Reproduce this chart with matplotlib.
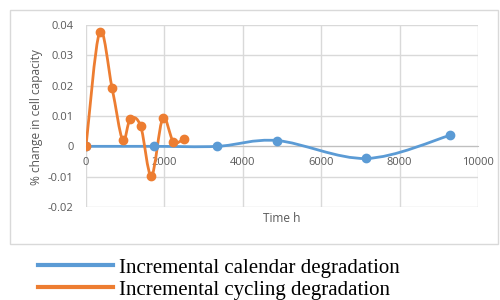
import matplotlib
matplotlib.use("Agg")
import matplotlib.pyplot as plt
from matplotlib.path import Path
from matplotlib.patches import PathPatch, Rectangle
from matplotlib.lines import Line2D

# --- Daten ---
calendar_h = [0, 1745, 3353, 4879, 7152, 9280]
calendar_pct = [0, 0, 0, 0.0019, -0.0040, 0.0036]

cycling_h = [0, 347, 664, 935, 1131, 1394, 1668, 1957, 2230, 2503]
cycling_pct = [0, 0.0377, 0.0193, 0.0021, 0.0091, 0.0067, -0.0098, 0.0092, 0.0015, 0.0024]

x_ticks = [0, 2000, 4000, 6000, 8000, 10000]
y_ticks = [-0.02, -0.01, 0, 0.01, 0.02, 0.03, 0.04]
y_labels = ["-0.02", "-0.01", "0", "0.01", "0.02", "0.03", "0.04"]
labels = ["Incremental calendar degradation", "Incremental cycling degradation"]

blue = "#5B9BD5"
orange = "#ED7D31"
grey_txt = "#595959"
grid_c = "#D9D9D9"


def smooth_path(xs, ys):
    # Excel-artige geglaettete Linie (Catmull-Rom als Bezier)
    pts = list(zip(xs, ys))
    verts = [pts[0]]
    codes = [Path.MOVETO]
    n = len(pts)
    for i in range(n - 1):
        p0 = pts[i - 1] if i > 0 else pts[i]
        p1 = pts[i]
        p2 = pts[i + 1]
        p3 = pts[i + 2] if i + 2 < n else pts[i + 1]
        c1 = (p1[0] + (p2[0] - p0[0]) / 6, p1[1] + (p2[1] - p0[1]) / 6)
        c2 = (p2[0] - (p3[0] - p1[0]) / 6, p2[1] - (p3[1] - p1[1]) / 6)
        verts += [c1, c2, p2]
        codes += [Path.CURVE4] * 3
    return Path(verts, codes)


fig = plt.figure(figsize=(5, 3), dpi=100)
fig.patches.append(Rectangle((10 / 500, 1 - 244 / 300), 488 / 500, 234 / 300,
                             transform=fig.transFigure, fill=False,
                             edgecolor=grid_c, linewidth=1))

ax = fig.add_axes([86 / 500, 1 - 207 / 300, 392 / 500, 182 / 300])
ax.set_xlim(0, 10000)
ax.set_ylim(-0.02, 0.04)

for xs, ys, c in [(calendar_h, calendar_pct, blue), (cycling_h, cycling_pct, orange)]:
    ax.add_patch(PathPatch(smooth_path(xs, ys), fill=False, edgecolor=c,
                           linewidth=2, zorder=3))
    ax.plot(xs, ys, linestyle="none", marker="o", markersize=6, color=c, zorder=4)

ax.set_xticks(x_ticks)
ax.set_yticks(y_ticks)
ax.set_yticklabels(y_labels)
ax.grid(True, color=grid_c, linewidth=1)
ax.set_axisbelow(True)
for s in ["top", "right", "left"]:
    ax.spines[s].set_visible(False)
ax.spines["bottom"].set_position(("data", 0))
ax.spines["bottom"].set_color("#BFBFBF")
ax.tick_params(length=0, labelsize=8, labelcolor=grey_txt)
ax.tick_params(axis="x", pad=8)
ax.tick_params(axis="y", pad=9)
for t in ax.get_xticklabels() + ax.get_yticklabels():
    t.set_family("Open Sans")

fig.text(37 / 500, 1 - 117 / 300, "% change in cell capacity", rotation=90,
         ha="center", va="center", fontsize=8.6, color=grey_txt, family="Open Sans")
fig.text(282 / 500, 1 - 218 / 300, "Time h", ha="center", va="center",
         fontsize=8.6, color=grey_txt, family="Open Sans")

handles = [Line2D([], [], color=blue, linewidth=3), Line2D([], [], color=orange, linewidth=3)]
fig.legend(handles, labels, loc="upper left", bbox_to_anchor=(38 / 500, 1 - 258 / 300),
           frameon=False, prop={"family": "Liberation Serif", "size": 15},
           handlelength=3.6, handletextpad=0.3, labelspacing=0.12, borderpad=0,
           borderaxespad=0)

fig.savefig("out.png", dpi=100)
